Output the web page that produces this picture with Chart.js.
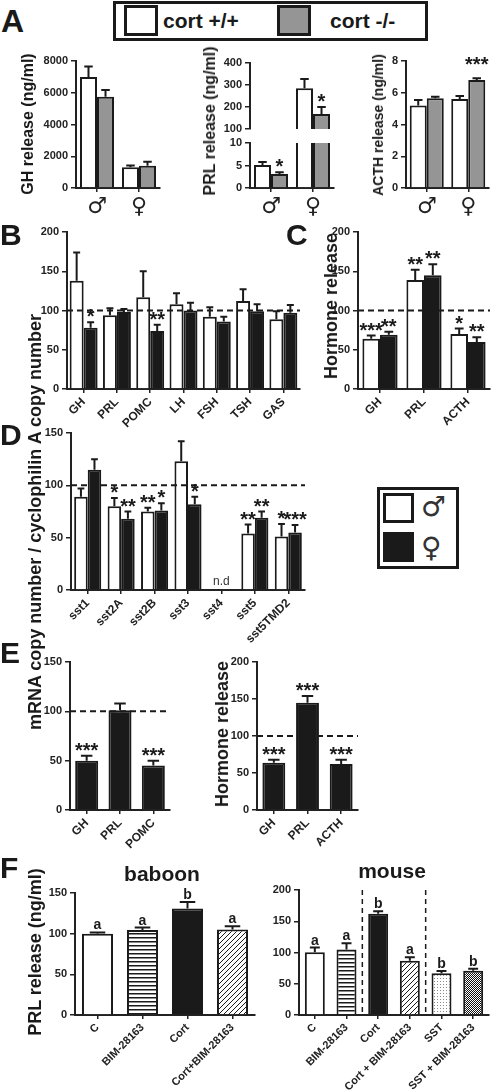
<!DOCTYPE html>
<html>
<head>
<meta charset="utf-8">
<script src="https://cdn.jsdelivr.net/npm/chart.js@4.4.1/dist/chart.umd.min.js"></script>
<style>
html,body{margin:0;padding:0;overflow:hidden}
body{background:#fff;width:492px;height:1091px;position:relative;font-family:"Liberation Sans",Arial,sans-serif;color:#1a1a1a}
canvas{position:absolute}
.t{position:absolute;white-space:nowrap;font-weight:bold;line-height:1}
.v{position:absolute;white-space:nowrap;font-weight:bold;line-height:1;transform:translate(-50%,-50%) rotate(-90deg)}
.box{position:absolute;box-sizing:border-box;border:3px solid #1a1a1a}
</style>
</head>
<body>
<script>
// ---- data ----
// A: cort +/+ vs cort -/- (male, female)
var sexLabels = ['\u2642', '\u2640'];
var ghWT = [7000, 1300], ghWTErr = [650, 120];
var ghKO = [5750, 1400], ghKOErr = [420, 250];
var prlWT = [5.1, 285], prlWTErr = [0.7, 42];
var prlKO = [3.1, 168], prlKOErr = [0.4, 32], prlKOSig = ['*', '*'];
var acthWT = [5.2, 5.6], acthWTErr = [0.35, 0.2];
var acthKO = [5.65, 6.8], acthKOErr = [0.1, 0.12], acthKOSig = ['', '***'];

// B: mRNA, male / female
var bLabels = ['GH', 'PRL', 'POMC', 'LH', 'FSH', 'TSH', 'GAS'];
var bMale = [138, 94, 117, 108, 92, 112, 89];
var bMaleErr = [36, 9, 33, 14, 12, 15, 10];
var bFemale = [78, 98, 74, 100, 86, 99, 97];
var bFemaleErr = [7, 4, 8, 10, 6, 9, 10];
var bFemaleSig = ['*', '', '**', '', '', '', ''];

// C: hormone release
var cLabels = ['GH', 'PRL', 'ACTH'];
var cMale = [64, 139, 70], cMaleErr = [4, 13, 7], cMaleSig = ['***', '**', '*'];
var cFemale = [69, 145, 60], cFemaleErr = [4, 14, 6], cFemaleSig = ['**', '**', '**'];

// D: sst receptors
var dLabels = ['sst1', 'sst2A', 'sst2B', 'sst3', 'sst4', 'sst5', 'sst5TMD2'];
var dMale = [89, 80, 75, 123, null, 54, 51];
var dMaleErr = [8, 8, 3.5, 19, null, 8.5, 12];
var dMaleSig = ['', '*', '**', '', '', '**', '*'];
var dFemale = [115, 68, 76, 82, null, 69, 55];
var dFemaleErr = [10, 7, 7, 7, null, 6, 7];
var dFemaleSig = ['', '**', '*', '*', '', '**', '***'];

// E
var eMrnaLabels = ['GH', 'PRL', 'POMC'];
var eMrna = [50, 101, 45], eMrnaErr = [5, 7, 5], eMrnaSig = ['***', '', '***'];
var eHormLabels = ['GH', 'PRL', 'ACTH'];
var eHorm = [64, 145, 62], eHormErr = [4, 9, 6], eHormSig = ['***', '***', '***'];

// F
var babLabels = ['C', 'BIM-28163', 'Cort', 'Cort+BIM-28163'];
var bab = [100, 104.5, 131, 105], babErr = [1.5, 3, 8, 4], babSig = ['a', 'a', 'b', 'a'];
var mouseLabels = ['C', 'BIM-28163', 'Cort', 'Cort + BIM-28163', 'SST', 'SST + BIM-28163'];
var mouse = [100.5, 105, 162, 87, 67, 71], mouseErr = [7.5, 10, 4, 5.5, 3.5, 3], mouseSig = ['a', 'a', 'b', 'a', 'b', 'b'];

// ---- styles ----
var INK = '#1a1a1a', GREY = '#959595';
Chart.defaults.font.family = '"Liberation Sans", Arial, sans-serif';
Chart.defaults.font.weight = 'bold';
Chart.defaults.color = '#222';

function tile(w, h, draw) {
  var c = document.createElement('canvas');
  c.width = w; c.height = h;
  var g = c.getContext('2d');
  g.fillStyle = '#fff'; g.fillRect(0, 0, w, h);
  draw(g);
  return g.createPattern(c, 'repeat');
}
var hStripes = tile(4, 4, function(g){ g.fillStyle = INK; g.fillRect(0, 0, 4, 1.5); });
var diag = tile(5, 5, function(g){
  g.strokeStyle = INK; g.lineWidth = 1;
  g.beginPath(); g.moveTo(-1, 6); g.lineTo(6, -1); g.stroke();
});
var stipple = tile(3, 3, function(g){ g.fillStyle = '#888'; g.fillRect(0, 0, 1, 1); });
var checker = tile(2, 2, function(g){ g.fillStyle = '#111'; g.fillRect(0, 0, 1, 1); g.fillRect(1, 1, 1, 1); });

function text(str, x, base, size, css) {
  var d = document.createElement('div');
  d.className = 't';
  d.textContent = str;
  d.style.left = x + 'px';
  d.style.top = (base - 0.846 * size) + 'px';
  d.style.fontSize = size + 'px';
  if (css) d.style.cssText += css;
  document.body.appendChild(d);
  return d;
}
function vtext(str, cx, cy, size) {
  var d = document.createElement('div');
  d.className = 'v';
  d.textContent = str;
  d.style.left = cx + 'px';
  d.style.top = cy + 'px';
  d.style.fontSize = size + 'px';
  document.body.appendChild(d);
}
function box(x, y, w, h, css) {
  var d = document.createElement('div');
  d.className = 'box';
  d.style.left = x + 'px'; d.style.top = y + 'px';
  d.style.width = w + 'px'; d.style.height = h + 'px';
  if (css) d.style.cssText += css;
  document.body.appendChild(d);
}

// error bars, significance marks, reference lines
function marksPlugin(s) {
  return {
    id: 'marks',
    afterDatasetsDraw: function(chart) {
      var ctx = chart.ctx, ys = chart.scales.y, xs = chart.scales.x, a = chart.chartArea;
      ctx.save();
      ctx.strokeStyle = INK;
      if (s.ref != null) {
        var yr = ys.getPixelForValue(s.ref);
        ctx.lineWidth = 2; ctx.setLineDash([6, 4]);
        ctx.beginPath(); ctx.moveTo(a.left, yr); ctx.lineTo(a.right, yr); ctx.stroke();
      }
      (s.vlines || []).forEach(function(i){
        var xv = (xs.getPixelForValue(i) + xs.getPixelForValue(i + 1)) / 2;
        ctx.lineWidth = 1.5; ctx.setLineDash([5, 4]);
        ctx.beginPath(); ctx.moveTo(xv, a.top); ctx.lineTo(xv, a.bottom); ctx.stroke();
      });
      ctx.setLineDash([]);
      chart.data.datasets.forEach(function(ds, di){
        var meta = chart.getDatasetMeta(di);
        meta.data.forEach(function(el, j){
          var v = ds.data[j];
          if (v == null) {
            if (s.note && di === 0) {
              ctx.fillStyle = '#333'; ctx.font = '12px "Liberation Sans", Arial';
              ctx.textAlign = 'center';
              ctx.fillText(s.note, xs.getPixelForValue(j), a.bottom - 5);
            }
            return;
          }
          var e = ds.errors ? ds.errors[j] : 0;
          if (v + e < ys.min || v > ys.max) return;
          var yt = ys.getPixelForValue(v + e), yb = ys.getPixelForValue(v);
          var cw = el.width * 0.5;
          ctx.lineWidth = 2;
          ctx.beginPath();
          ctx.moveTo(el.x, yb); ctx.lineTo(el.x, yt);
          ctx.moveTo(el.x - cw / 2, yt); ctx.lineTo(el.x + cw / 2, yt);
          ctx.stroke();
          var m = ds.sig && ds.sig[j];
          if (m) {
            ctx.fillStyle = INK; ctx.textAlign = 'center';
            if (m.charAt(0) === '*') {
              ctx.font = 'bold 20px "Liberation Sans", Arial';
              ctx.fillText(m, el.x, yt + 1 - (ds.lift || 0));
            } else {
              ctx.font = 'bold 14px "Liberation Sans", Arial';
              ctx.fillText(m, el.x, yt - 3);
            }
          }
        });
      });
      ctx.restore();
    }
  };
}

function makeChart(s) {
  var showX = s.labelsShown !== false;
  var padB = showX ? 0 : 10, xh = showX ? (s.xh || 70) : 0;
  var w = s.x1 - s.x0 + 80, h = s.y1 - s.y0 + 20 + xh + padB;
  var c = document.createElement('canvas');
  c.width = w; c.height = h;
  c.style.left = (s.x0 - 60) + 'px'; c.style.top = (s.y0 - 20) + 'px';
  c.style.width = w + 'px'; c.style.height = h + 'px';
  document.body.appendChild(c);
  var sets = s.datasets.map(function(d){
    return {
      data: d.data, errors: d.errors, sig: d.sig, lift: d.lift,
      backgroundColor: d.color, borderColor: INK, borderWidth: 2,
      categoryPercentage: s.cat, barPercentage: 1, clip: 0
    };
  });
  new Chart(c, {
    type: 'bar',
    data: { labels: s.labels, datasets: sets },
    options: {
      responsive: false, animation: false, events: [],
      layout: { padding: { top: 20, right: 20, bottom: padB, left: 0 } },
      plugins: { legend: { display: false }, tooltip: { enabled: false } },
      scales: {
        x: {
          display: showX,
          grid: { offset: false, drawOnChartArea: false, tickLength: 4, color: '#222', lineWidth: 1.5 },
          border: { color: '#222', width: 2 },
          ticks: { font: s.xFont || { size: 12, weight: 'bold' }, color: '#222', minRotation: s.rot || 0, maxRotation: s.rot || 0, autoSkip: false, padding: 2 },
          afterFit: function(sc){ sc.height = xh; }
        },
        y: {
          min: s.min, max: s.max, beginAtZero: false,
          grid: { drawOnChartArea: false, tickLength: 5, color: '#222', lineWidth: 1.5 },
          border: { color: '#222', width: 2 },
          ticks: { stepSize: s.step, font: { size: 11, weight: 'bold' }, color: '#222', padding: 3, callback: function(v){ return String(v); } },
          afterFit: function(sc){ sc.width = 60; }
        }
      }
    },
    plugins: [marksPlugin(s)]
  });
}

var sexFont = { size: 22, weight: 'normal', family: '"DejaVu Sans", sans-serif' };

// ---- panel A ----
makeChart({ x0: 76, x1: 160, y0: 61, y1: 188, min: 0, max: 8000, step: 2000, labels: sexLabels, xFont: sexFont, cat: 0.81,
  datasets: [{ data: ghWT, errors: ghWTErr, color: '#fff' }, { data: ghKO, errors: ghKOErr, color: GREY }] });
makeChart({ x0: 250, x1: 334, y0: 63, y1: 129, min: 100, max: 400, step: 100, labels: sexLabels, labelsShown: false, cat: 0.81,
  datasets: [{ data: prlWT, errors: prlWTErr, color: '#fff' }, { data: prlKO, errors: prlKOErr, sig: prlKOSig, color: GREY }] });
makeChart({ x0: 250, x1: 334, y0: 143, y1: 188, min: 0, max: 10, step: 5, labels: sexLabels, xFont: sexFont, cat: 0.81,
  datasets: [{ data: prlWT, errors: prlWTErr, color: '#fff' }, { data: prlKO, errors: prlKOErr, sig: prlKOSig, color: GREY }] });
makeChart({ x0: 406, x1: 489, y0: 61, y1: 188, min: 0, max: 8, step: 2, labels: sexLabels, xFont: sexFont, cat: 0.82,
  datasets: [{ data: acthWT, errors: acthWTErr, color: '#fff' }, { data: acthKO, errors: acthKOErr, sig: acthKOSig, lift: 8, color: GREY }] });

// ---- panels B, C, D ----
makeChart({ x0: 67, x1: 300, y0: 232, y1: 389, min: 0, max: 200, step: 50, labels: bLabels, rot: 45, cat: 0.84, ref: 100,
  datasets: [{ data: bMale, errors: bMaleErr, color: '#fff' }, { data: bFemale, errors: bFemaleErr, sig: bFemaleSig, color: INK }] });
makeChart({ x0: 358, x1: 490, y0: 232, y1: 389, min: 0, max: 200, step: 50, labels: cLabels, rot: 45, cat: 0.8, ref: 100,
  datasets: [{ data: cMale, errors: cMaleErr, sig: cMaleSig, color: '#fff' }, { data: cFemale, errors: cFemaleErr, sig: cFemaleSig, color: INK }] });
makeChart({ x0: 71, x1: 305, y0: 433, y1: 590, min: 0, max: 150, step: 50, labels: dLabels, rot: 45, cat: 0.81, ref: 100, note: 'n.d',
  datasets: [{ data: dMale, errors: dMaleErr, sig: dMaleSig, color: '#fff' }, { data: dFemale, errors: dFemaleErr, sig: dFemaleSig, color: INK }] });

// ---- panel E ----
makeChart({ x0: 70, x1: 170, y0: 662, y1: 810, min: 0, max: 150, step: 50, labels: eMrnaLabels, rot: 45, cat: 0.69, ref: 100,
  datasets: [{ data: eMrna, errors: eMrnaErr, sig: eMrnaSig, color: INK }] });
makeChart({ x0: 257, x1: 358, y0: 662, y1: 810, min: 0, max: 200, step: 50, labels: eHormLabels, rot: 45, cat: 0.68, ref: 100,
  datasets: [{ data: eHorm, errors: eHormErr, sig: eHormSig, color: INK }] });

// ---- panel F ----
makeChart({ x0: 75, x1: 255, y0: 893, y1: 1015, min: 0, max: 150, step: 50, labels: babLabels, rot: 45, cat: 0.69, xh: 90, xFont: { size: 11, weight: 'bold' },
  datasets: [{ data: bab, errors: babErr, sig: babSig, color: ['#fff', hStripes, INK, diag] }] });
makeChart({ x0: 299, x1: 489, y0: 890, y1: 1015, min: 0, max: 200, step: 50, labels: mouseLabels, rot: 45, cat: 0.63, xh: 90, vlines: [1, 3], xFont: { size: 11, weight: 'bold' },
  datasets: [{ data: mouse, errors: mouseErr, sig: mouseSig, color: ['#fff', hStripes, INK, diag, stipple, checker] }] });

// ---- text and legends ----
text('A', 1, 32, 32); text('B', 0, 245, 30); text('C', 286, 245, 30);
text('D', 0, 445, 30); text('E', 0, 663, 30); text('F', 0, 878, 30);

box(113, 1, 315, 40);
box(124, 5, 34, 31, 'background:#fff');
text('cort +/+', 163, 28, 21);
box(277, 5, 34, 31, 'background:' + GREY);
text('cort -/-', 330, 28, 21);

vtext('GH release (ng/ml)', 28, 124, 16);
vtext('PRL release (ng/ml)', 210, 121, 16);
vtext('ACTH release (ng/ml)', 378, 125, 14);
vtext('mRNA copy number / cyclophilin A copy number', 35, 522, 18);
vtext('Hormone release', 331, 306, 18);
vtext('Hormone release', 222, 734, 18);
vtext('PRL release (ng/ml)', 35, 952, 18);

box(377, 487, 82, 82);
box(383, 493, 31, 30, 'background:#fff');
box(383, 532, 31, 30, 'background:' + INK);
text('\u2642', 421, 517, 28, 'font-family:"DejaVu Sans",sans-serif;font-weight:normal;color:#333');
text('\u2640', 421, 558, 28, 'font-family:"DejaVu Sans",sans-serif;font-weight:normal;color:#333');

text('baboon', 162, 881, 21, 'transform:translateX(-50%)');
text('mouse', 392, 878, 21, 'transform:translateX(-50%)');
</script>
</body>
</html>
